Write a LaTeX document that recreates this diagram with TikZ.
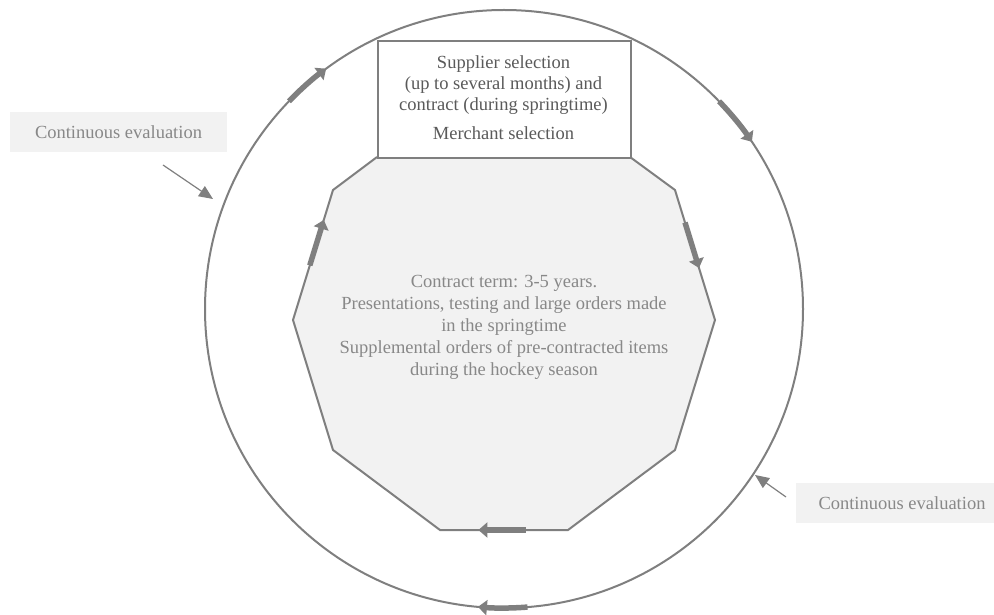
\documentclass[tikz,border=0pt]{standalone}
\usepackage{fontspec}
\setmainfont{Liberation Serif}
\usetikzlibrary{arrows.meta,calc}
\definecolor{ln}{HTML}{7F7F7F}
\definecolor{tx}{HTML}{5A5A5A}
\definecolor{tx2}{HTML}{888888}
\definecolor{bgf}{HTML}{F2F2F2}
\tikzset{
  outline/.style={draw=ln, line width=2pt},
  flowseg/.style={draw=ln, line width=5.5pt, -{Triangle[length=9pt,width=15pt]}},
  evallabel/.style={fill=bgf, text=tx2, font=\fontsize{18.5}{21}\selectfont, minimum height=40pt, inner sep=0pt},
  evalarrow/.style={draw=ln, line width=1.2pt, -{Triangle[length=14pt,width=12pt]}},
}
\begin{document}
\begin{tikzpicture}[x=1pt,y=1pt]
\useasboundingbox (0,0) rectangle (994,614);
% polygon
\coordinate (p1) at (377,457);
\coordinate (p2) at (630,457);
\coordinate (p3) at (675,424);
\coordinate (p4) at (715,294);
\coordinate (p5) at (675,164);
\coordinate (p6) at (568,84);
\coordinate (p7) at (440,84);
\coordinate (p8) at (333,164);
\coordinate (p9) at (293,294);
\coordinate (p10) at (333,424);
\fill[bgf] (p1)--(p2)--(p3)--(p4)--(p5)--(p6)--(p7)--(p8)--(p9)--(p10)--cycle;
\draw[outline, line join=miter] (p2)--(p3)--(p4)--(p5)--(p6)--(p7)--(p8)--(p9)--(p10)--(p1);
% circle
\coordinate (c) at (504,305);
\draw[outline] (c) circle[radius=299];
% box
\node[outline, fill=white, minimum width=253pt, minimum height=117pt, inner sep=0pt, anchor=north west] (box) at (377,574) {};
\node[text=tx, font=\fontsize{18.5}{21}\selectfont, align=center] (boxtxt) at (503.5,516)
  {Supplier selection\\(up to several months) and\\contract (during springtime)\\[8pt]Merchant selection};
% inner text
\node[text=tx2, font=\fontsize{18.5}{22}\selectfont, align=center] (inner) at (504,287)
  {Contract term: 3-5 years.\\Presentations, testing and large orders made\\in the springtime\\Supplemental orders of pre-contracted items\\during the hockey season};
% circle arrows
\draw[flowseg] ($(c)+(136:299)$) arc[start angle=136, end angle=126.5, radius=299];
\draw[flowseg] ($(c)+(44:299)$) arc[start angle=44, end angle=34, radius=299];
\draw[flowseg] ($(c)+(-85.5:299)$) arc[start angle=-85.5, end angle=-95, radius=299];
% polygon arrows
\draw[flowseg] ($(p9)!0.42!(p10)$) -- ($(p9)!0.77!(p10)$);
\draw[flowseg] ($(p3)!0.25!(p4)$) -- ($(p3)!0.6!(p4)$);
\draw[flowseg] ($(p6)!0.33!(p7)$) -- ($(p6)!0.7!(p7)$);
% evaluation labels
\node[evallabel, minimum width=217pt] (evl) at (118.5,482) {Continuous evaluation};
\node[evallabel, minimum width=212pt] (evr) at (902,111) {Continuous evaluation};
\coordinate (la1) at (163,449);
\coordinate (la2) at (213,415);
\coordinate (ra1) at (786,117);
\coordinate (ra2) at (755,139);
\draw[evalarrow] (la1) -- (la2);
\draw[evalarrow] (ra1) -- (ra2);
\end{tikzpicture}
\end{document}
